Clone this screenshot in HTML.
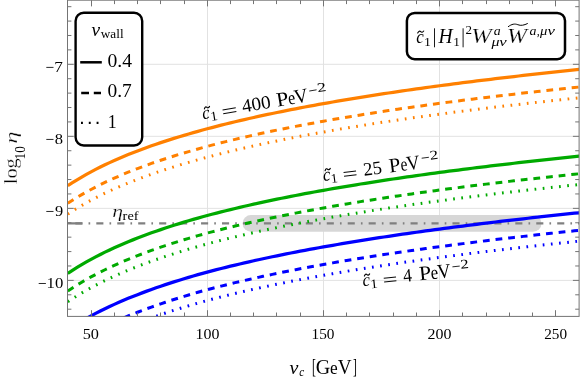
<!DOCTYPE html>
<html lang="en"><head><meta charset="utf-8"><title>plot</title>
<style>
html,body{margin:0;padding:0;background:#fff;}
body{width:581px;height:382px;overflow:hidden;font-family:"Liberation Serif",serif;}
svg{display:block;will-change:transform}
svg text{font-family:"Liberation Serif",serif;fill:#000;font-kerning:none;font-variant-ligatures:none;white-space:pre}
.i{font-style:italic}
</style></head><body>
<svg width="581" height="382" viewBox="0 0 581 382">
<rect x="0" y="0" width="581" height="382" fill="#fff"/>
<defs><clipPath id="cp"><rect x="67.5" y="0.2" width="511.6" height="316.2"/></clipPath></defs>
<g stroke="#e2e2e2" stroke-width="1" fill="none">
<line x1="207.50" y1="0.2" x2="207.50" y2="316.4"/>
<line x1="323.50" y1="0.2" x2="323.50" y2="316.4"/>
<line x1="439.50" y1="0.2" x2="439.50" y2="316.4"/>
<line x1="67.5" y1="64.30" x2="579.1" y2="64.30"/>
<line x1="67.5" y1="136.33" x2="579.1" y2="136.33"/>
<line x1="67.5" y1="208.36" x2="579.1" y2="208.36"/>
<line x1="67.5" y1="280.39" x2="579.1" y2="280.39"/>
</g>
<g clip-path="url(#cp)">
<line x1="251" y1="223.4" x2="533.1" y2="223.4" stroke="#d7d7d7" stroke-width="16.8" stroke-linecap="round"/>
<line x1="67.5" y1="223.3" x2="82.4" y2="223.3" stroke="#808080" stroke-width="2.3"/>
<line x1="75.35" y1="223.3" x2="579.1" y2="223.3" stroke="#808080" stroke-width="2.3" stroke-dasharray="7.1 6.1 1.65 6.1"/>
<path d="M67.80 185.71 L72.45 182.68 L77.10 179.79 L81.74 177.03 L86.39 174.38 L91.04 171.85 L95.69 169.41 L100.34 167.07 L104.98 164.81 L109.63 162.63 L114.28 160.52 L118.93 158.49 L123.58 156.52 L128.22 154.61 L132.87 152.75 L137.52 150.95 L142.17 149.20 L146.82 147.50 L151.46 145.84 L156.11 144.23 L160.76 142.66 L165.41 141.12 L170.06 139.63 L174.70 138.17 L179.35 136.74 L184.00 135.34 L188.65 133.98 L193.30 132.64 L197.94 131.34 L202.59 130.05 L207.24 128.80 L211.89 127.57 L216.54 126.36 L221.18 125.18 L225.83 124.02 L230.48 122.88 L235.13 121.76 L239.78 120.66 L244.42 119.58 L249.07 118.52 L253.72 117.48 L258.37 116.45 L263.02 115.44 L267.66 114.45 L272.31 113.47 L276.96 112.51 L281.61 111.56 L286.26 110.62 L290.90 109.70 L295.55 108.80 L300.20 107.90 L304.85 107.02 L309.50 106.15 L314.14 105.30 L318.79 104.45 L323.44 103.62 L328.09 102.80 L332.74 101.98 L337.38 101.18 L342.03 100.39 L346.68 99.61 L351.33 98.84 L355.98 98.08 L360.62 97.32 L365.27 96.58 L369.92 95.85 L374.57 95.12 L379.22 94.40 L383.86 93.69 L388.51 92.99 L393.16 92.30 L397.81 91.61 L402.46 90.93 L407.10 90.26 L411.75 89.60 L416.40 88.94 L421.05 88.29 L425.70 87.64 L430.34 87.01 L434.99 86.38 L439.64 85.75 L444.29 85.13 L448.94 84.52 L453.58 83.92 L458.23 83.32 L462.88 82.72 L467.53 82.13 L472.18 81.55 L476.82 80.97 L481.47 80.40 L486.12 79.83 L490.77 79.27 L495.42 78.71 L500.06 78.16 L504.71 77.62 L509.36 77.07 L514.01 76.54 L518.66 76.00 L523.30 75.47 L527.95 74.95 L532.60 74.43 L537.25 73.91 L541.90 73.40 L546.54 72.90 L551.19 72.39 L555.84 71.89 L560.49 71.40 L565.14 70.91 L569.78 70.42 L574.43 69.94 L579.08 69.46 L580.24 69.34" fill="none" stroke="#ff8000" stroke-width="3.25"/>
<path d="M67.80 203.31 L72.45 200.28 L77.10 197.39 L81.74 194.63 L86.39 191.98 L91.04 189.45 L95.69 187.01 L100.34 184.67 L104.98 182.41 L109.63 180.23 L114.28 178.12 L118.93 176.09 L123.58 174.12 L128.22 172.21 L132.87 170.35 L137.52 168.55 L142.17 166.80 L146.82 165.10 L151.46 163.44 L156.11 161.83 L160.76 160.26 L165.41 158.72 L170.06 157.23 L174.70 155.77 L179.35 154.34 L184.00 152.94 L188.65 151.58 L193.30 150.24 L197.94 148.94 L202.59 147.65 L207.24 146.40 L211.89 145.17 L216.54 143.96 L221.18 142.78 L225.83 141.62 L230.48 140.48 L235.13 139.36 L239.78 138.26 L244.42 137.18 L249.07 136.12 L253.72 135.08 L258.37 134.05 L263.02 133.04 L267.66 132.05 L272.31 131.07 L276.96 130.11 L281.61 129.16 L286.26 128.22 L290.90 127.30 L295.55 126.40 L300.20 125.50 L304.85 124.62 L309.50 123.75 L314.14 122.90 L318.79 122.05 L323.44 121.22 L328.09 120.40 L332.74 119.58 L337.38 118.78 L342.03 117.99 L346.68 117.21 L351.33 116.44 L355.98 115.68 L360.62 114.92 L365.27 114.18 L369.92 113.45 L374.57 112.72 L379.22 112.00 L383.86 111.29 L388.51 110.59 L393.16 109.90 L397.81 109.21 L402.46 108.53 L407.10 107.86 L411.75 107.20 L416.40 106.54 L421.05 105.89 L425.70 105.24 L430.34 104.61 L434.99 103.98 L439.64 103.35 L444.29 102.73 L448.94 102.12 L453.58 101.52 L458.23 100.92 L462.88 100.32 L467.53 99.73 L472.18 99.15 L476.82 98.57 L481.47 98.00 L486.12 97.43 L490.77 96.87 L495.42 96.31 L500.06 95.76 L504.71 95.22 L509.36 94.67 L514.01 94.14 L518.66 93.60 L523.30 93.07 L527.95 92.55 L532.60 92.03 L537.25 91.51 L541.90 91.00 L546.54 90.50 L551.19 89.99 L555.84 89.49 L560.49 89.00 L565.14 88.51 L569.78 88.02 L574.43 87.54 L579.08 87.06 L580.24 86.94" fill="none" stroke="#ff8000" stroke-width="3.0" stroke-dasharray="6.8 5.9"/>
<path d="M67.80 214.11 L72.45 211.08 L77.10 208.19 L81.74 205.43 L86.39 202.78 L91.04 200.25 L95.69 197.81 L100.34 195.47 L104.98 193.21 L109.63 191.03 L114.28 188.92 L118.93 186.89 L123.58 184.92 L128.22 183.01 L132.87 181.15 L137.52 179.35 L142.17 177.60 L146.82 175.90 L151.46 174.24 L156.11 172.63 L160.76 171.06 L165.41 169.52 L170.06 168.03 L174.70 166.57 L179.35 165.14 L184.00 163.74 L188.65 162.38 L193.30 161.04 L197.94 159.74 L202.59 158.45 L207.24 157.20 L211.89 155.97 L216.54 154.76 L221.18 153.58 L225.83 152.42 L230.48 151.28 L235.13 150.16 L239.78 149.06 L244.42 147.98 L249.07 146.92 L253.72 145.88 L258.37 144.85 L263.02 143.84 L267.66 142.85 L272.31 141.87 L276.96 140.91 L281.61 139.96 L286.26 139.02 L290.90 138.10 L295.55 137.20 L300.20 136.30 L304.85 135.42 L309.50 134.55 L314.14 133.70 L318.79 132.85 L323.44 132.02 L328.09 131.20 L332.74 130.38 L337.38 129.58 L342.03 128.79 L346.68 128.01 L351.33 127.24 L355.98 126.48 L360.62 125.72 L365.27 124.98 L369.92 124.25 L374.57 123.52 L379.22 122.80 L383.86 122.09 L388.51 121.39 L393.16 120.70 L397.81 120.01 L402.46 119.33 L407.10 118.66 L411.75 118.00 L416.40 117.34 L421.05 116.69 L425.70 116.04 L430.34 115.41 L434.99 114.78 L439.64 114.15 L444.29 113.53 L448.94 112.92 L453.58 112.32 L458.23 111.72 L462.88 111.12 L467.53 110.53 L472.18 109.95 L476.82 109.37 L481.47 108.80 L486.12 108.23 L490.77 107.67 L495.42 107.11 L500.06 106.56 L504.71 106.02 L509.36 105.47 L514.01 104.94 L518.66 104.40 L523.30 103.87 L527.95 103.35 L532.60 102.83 L537.25 102.31 L541.90 101.80 L546.54 101.30 L551.19 100.79 L555.84 100.29 L560.49 99.80 L565.14 99.31 L569.78 98.82 L574.43 98.34 L579.08 97.86 L580.24 97.74" fill="none" stroke="#ff8000" stroke-width="3.0" stroke-dasharray="1.7 6.5"/>
<path d="M67.80 273.41 L72.45 270.32 L77.10 267.38 L81.74 264.57 L86.39 261.88 L91.04 259.30 L95.69 256.83 L100.34 254.44 L104.98 252.14 L109.63 249.92 L114.28 247.78 L118.93 245.71 L123.58 243.70 L128.22 241.76 L132.87 239.87 L137.52 238.04 L142.17 236.26 L146.82 234.53 L151.46 232.84 L156.11 231.20 L160.76 229.60 L165.41 228.04 L170.06 226.52 L174.70 225.03 L179.35 223.58 L184.00 222.16 L188.65 220.77 L193.30 219.41 L197.94 218.08 L202.59 216.78 L207.24 215.50 L211.89 214.27 L216.54 213.06 L221.18 211.88 L225.83 210.72 L230.48 209.58 L235.13 208.46 L239.78 207.36 L244.42 206.28 L249.07 205.22 L253.72 204.18 L258.37 203.15 L263.02 202.14 L267.66 201.15 L272.31 200.17 L276.96 199.21 L281.61 198.26 L286.26 197.32 L290.90 196.40 L295.55 195.50 L300.20 194.60 L304.85 193.72 L309.50 192.85 L314.14 192.00 L318.79 191.15 L323.44 190.32 L328.09 189.50 L332.74 188.68 L337.38 187.88 L342.03 187.09 L346.68 186.31 L351.33 185.54 L355.98 184.78 L360.62 184.02 L365.27 183.28 L369.92 182.55 L374.57 181.82 L379.22 181.10 L383.86 180.39 L388.51 179.69 L393.16 179.00 L397.81 178.31 L402.46 177.63 L407.10 176.96 L411.75 176.30 L416.40 175.64 L421.05 174.99 L425.70 174.34 L430.34 173.71 L434.99 173.08 L439.64 172.45 L444.29 171.83 L448.94 171.22 L453.58 170.62 L458.23 170.02 L462.88 169.42 L467.53 168.83 L472.18 168.25 L476.82 167.67 L481.47 167.10 L486.12 166.53 L490.77 165.97 L495.42 165.41 L500.06 164.86 L504.71 164.32 L509.36 163.77 L514.01 163.24 L518.66 162.70 L523.30 162.17 L527.95 161.65 L532.60 161.13 L537.25 160.61 L541.90 160.10 L546.54 159.60 L551.19 159.09 L555.84 158.59 L560.49 158.10 L565.14 157.61 L569.78 157.12 L574.43 156.64 L579.08 156.16 L580.24 156.04" fill="none" stroke="#00aa00" stroke-width="3.25"/>
<path d="M67.80 291.01 L72.45 287.92 L77.10 284.98 L81.74 282.17 L86.39 279.48 L91.04 276.90 L95.69 274.43 L100.34 272.04 L104.98 269.74 L109.63 267.52 L114.28 265.38 L118.93 263.31 L123.58 261.30 L128.22 259.36 L132.87 257.47 L137.52 255.64 L142.17 253.86 L146.82 252.13 L151.46 250.44 L156.11 248.80 L160.76 247.20 L165.41 245.64 L170.06 244.12 L174.70 242.63 L179.35 241.18 L184.00 239.76 L188.65 238.37 L193.30 237.01 L197.94 235.68 L202.59 234.38 L207.24 233.10 L211.89 231.87 L216.54 230.66 L221.18 229.48 L225.83 228.32 L230.48 227.18 L235.13 226.06 L239.78 224.96 L244.42 223.88 L249.07 222.82 L253.72 221.78 L258.37 220.75 L263.02 219.74 L267.66 218.75 L272.31 217.77 L276.96 216.81 L281.61 215.86 L286.26 214.92 L290.90 214.00 L295.55 213.10 L300.20 212.20 L304.85 211.32 L309.50 210.45 L314.14 209.60 L318.79 208.75 L323.44 207.92 L328.09 207.10 L332.74 206.28 L337.38 205.48 L342.03 204.69 L346.68 203.91 L351.33 203.14 L355.98 202.38 L360.62 201.62 L365.27 200.88 L369.92 200.15 L374.57 199.42 L379.22 198.70 L383.86 197.99 L388.51 197.29 L393.16 196.60 L397.81 195.91 L402.46 195.23 L407.10 194.56 L411.75 193.90 L416.40 193.24 L421.05 192.59 L425.70 191.94 L430.34 191.31 L434.99 190.68 L439.64 190.05 L444.29 189.43 L448.94 188.82 L453.58 188.22 L458.23 187.62 L462.88 187.02 L467.53 186.43 L472.18 185.85 L476.82 185.27 L481.47 184.70 L486.12 184.13 L490.77 183.57 L495.42 183.01 L500.06 182.46 L504.71 181.92 L509.36 181.37 L514.01 180.84 L518.66 180.30 L523.30 179.77 L527.95 179.25 L532.60 178.73 L537.25 178.21 L541.90 177.70 L546.54 177.20 L551.19 176.69 L555.84 176.19 L560.49 175.70 L565.14 175.21 L569.78 174.72 L574.43 174.24 L579.08 173.76 L580.24 173.64" fill="none" stroke="#00aa00" stroke-width="3.0" stroke-dasharray="6.8 5.9"/>
<path d="M67.80 301.81 L72.45 298.72 L77.10 295.78 L81.74 292.97 L86.39 290.28 L91.04 287.70 L95.69 285.23 L100.34 282.84 L104.98 280.54 L109.63 278.32 L114.28 276.18 L118.93 274.11 L123.58 272.10 L128.22 270.16 L132.87 268.27 L137.52 266.44 L142.17 264.66 L146.82 262.93 L151.46 261.24 L156.11 259.60 L160.76 258.00 L165.41 256.44 L170.06 254.92 L174.70 253.43 L179.35 251.98 L184.00 250.56 L188.65 249.17 L193.30 247.81 L197.94 246.48 L202.59 245.18 L207.24 243.90 L211.89 242.67 L216.54 241.46 L221.18 240.28 L225.83 239.12 L230.48 237.98 L235.13 236.86 L239.78 235.76 L244.42 234.68 L249.07 233.62 L253.72 232.58 L258.37 231.55 L263.02 230.54 L267.66 229.55 L272.31 228.57 L276.96 227.61 L281.61 226.66 L286.26 225.72 L290.90 224.80 L295.55 223.90 L300.20 223.00 L304.85 222.12 L309.50 221.25 L314.14 220.40 L318.79 219.55 L323.44 218.72 L328.09 217.90 L332.74 217.08 L337.38 216.28 L342.03 215.49 L346.68 214.71 L351.33 213.94 L355.98 213.18 L360.62 212.42 L365.27 211.68 L369.92 210.95 L374.57 210.22 L379.22 209.50 L383.86 208.79 L388.51 208.09 L393.16 207.40 L397.81 206.71 L402.46 206.03 L407.10 205.36 L411.75 204.70 L416.40 204.04 L421.05 203.39 L425.70 202.74 L430.34 202.11 L434.99 201.48 L439.64 200.85 L444.29 200.23 L448.94 199.62 L453.58 199.02 L458.23 198.42 L462.88 197.82 L467.53 197.23 L472.18 196.65 L476.82 196.07 L481.47 195.50 L486.12 194.93 L490.77 194.37 L495.42 193.81 L500.06 193.26 L504.71 192.72 L509.36 192.17 L514.01 191.64 L518.66 191.10 L523.30 190.57 L527.95 190.05 L532.60 189.53 L537.25 189.01 L541.90 188.50 L546.54 188.00 L551.19 187.49 L555.84 186.99 L560.49 186.50 L565.14 186.01 L569.78 185.52 L574.43 185.04 L579.08 184.56 L580.24 184.44" fill="none" stroke="#00aa00" stroke-width="3.0" stroke-dasharray="1.7 6.5"/>
<path d="M67.80 330.01 L72.45 326.92 L77.10 323.98 L81.74 321.17 L86.39 318.48 L91.04 315.90 L95.69 313.43 L100.34 311.04 L104.98 308.74 L109.63 306.52 L114.28 304.38 L118.93 302.31 L123.58 300.30 L128.22 298.36 L132.87 296.47 L137.52 294.64 L142.17 292.86 L146.82 291.13 L151.46 289.44 L156.11 287.80 L160.76 286.20 L165.41 284.64 L170.06 283.12 L174.70 281.63 L179.35 280.18 L184.00 278.76 L188.65 277.37 L193.30 276.01 L197.94 274.68 L202.59 273.38 L207.24 272.10 L211.89 270.87 L216.54 269.66 L221.18 268.48 L225.83 267.32 L230.48 266.18 L235.13 265.06 L239.78 263.96 L244.42 262.88 L249.07 261.82 L253.72 260.78 L258.37 259.75 L263.02 258.74 L267.66 257.75 L272.31 256.77 L276.96 255.81 L281.61 254.86 L286.26 253.92 L290.90 253.00 L295.55 252.10 L300.20 251.20 L304.85 250.32 L309.50 249.45 L314.14 248.60 L318.79 247.75 L323.44 246.92 L328.09 246.10 L332.74 245.28 L337.38 244.48 L342.03 243.69 L346.68 242.91 L351.33 242.14 L355.98 241.38 L360.62 240.62 L365.27 239.88 L369.92 239.15 L374.57 238.42 L379.22 237.70 L383.86 236.99 L388.51 236.29 L393.16 235.60 L397.81 234.91 L402.46 234.23 L407.10 233.56 L411.75 232.90 L416.40 232.24 L421.05 231.59 L425.70 230.94 L430.34 230.31 L434.99 229.68 L439.64 229.05 L444.29 228.43 L448.94 227.82 L453.58 227.22 L458.23 226.62 L462.88 226.02 L467.53 225.43 L472.18 224.85 L476.82 224.27 L481.47 223.70 L486.12 223.13 L490.77 222.57 L495.42 222.01 L500.06 221.46 L504.71 220.92 L509.36 220.37 L514.01 219.84 L518.66 219.30 L523.30 218.77 L527.95 218.25 L532.60 217.73 L537.25 217.21 L541.90 216.70 L546.54 216.20 L551.19 215.69 L555.84 215.19 L560.49 214.70 L565.14 214.21 L569.78 213.72 L574.43 213.24 L579.08 212.76 L580.24 212.64" fill="none" stroke="#0000ff" stroke-width="3.25"/>
<path d="M67.80 347.61 L72.45 344.52 L77.10 341.58 L81.74 338.77 L86.39 336.08 L91.04 333.50 L95.69 331.03 L100.34 328.64 L104.98 326.34 L109.63 324.12 L114.28 321.98 L118.93 319.91 L123.58 317.90 L128.22 315.96 L132.87 314.07 L137.52 312.24 L142.17 310.46 L146.82 308.73 L151.46 307.04 L156.11 305.40 L160.76 303.80 L165.41 302.24 L170.06 300.72 L174.70 299.23 L179.35 297.78 L184.00 296.36 L188.65 294.97 L193.30 293.61 L197.94 292.28 L202.59 290.98 L207.24 289.70 L211.89 288.47 L216.54 287.26 L221.18 286.08 L225.83 284.92 L230.48 283.78 L235.13 282.66 L239.78 281.56 L244.42 280.48 L249.07 279.42 L253.72 278.38 L258.37 277.35 L263.02 276.34 L267.66 275.35 L272.31 274.37 L276.96 273.41 L281.61 272.46 L286.26 271.52 L290.90 270.60 L295.55 269.70 L300.20 268.80 L304.85 267.92 L309.50 267.05 L314.14 266.20 L318.79 265.35 L323.44 264.52 L328.09 263.70 L332.74 262.88 L337.38 262.08 L342.03 261.29 L346.68 260.51 L351.33 259.74 L355.98 258.98 L360.62 258.22 L365.27 257.48 L369.92 256.75 L374.57 256.02 L379.22 255.30 L383.86 254.59 L388.51 253.89 L393.16 253.20 L397.81 252.51 L402.46 251.83 L407.10 251.16 L411.75 250.50 L416.40 249.84 L421.05 249.19 L425.70 248.54 L430.34 247.91 L434.99 247.28 L439.64 246.65 L444.29 246.03 L448.94 245.42 L453.58 244.82 L458.23 244.22 L462.88 243.62 L467.53 243.03 L472.18 242.45 L476.82 241.87 L481.47 241.30 L486.12 240.73 L490.77 240.17 L495.42 239.61 L500.06 239.06 L504.71 238.52 L509.36 237.97 L514.01 237.44 L518.66 236.90 L523.30 236.37 L527.95 235.85 L532.60 235.33 L537.25 234.81 L541.90 234.30 L546.54 233.80 L551.19 233.29 L555.84 232.79 L560.49 232.30 L565.14 231.81 L569.78 231.32 L574.43 230.84 L579.08 230.36 L580.24 230.24" fill="none" stroke="#0000ff" stroke-width="3.0" stroke-dasharray="6.8 5.9"/>
<path d="M67.80 358.41 L72.45 355.32 L77.10 352.38 L81.74 349.57 L86.39 346.88 L91.04 344.30 L95.69 341.83 L100.34 339.44 L104.98 337.14 L109.63 334.92 L114.28 332.78 L118.93 330.71 L123.58 328.70 L128.22 326.76 L132.87 324.87 L137.52 323.04 L142.17 321.26 L146.82 319.53 L151.46 317.84 L156.11 316.20 L160.76 314.60 L165.41 313.04 L170.06 311.52 L174.70 310.03 L179.35 308.58 L184.00 307.16 L188.65 305.77 L193.30 304.41 L197.94 303.08 L202.59 301.78 L207.24 300.50 L211.89 299.27 L216.54 298.06 L221.18 296.88 L225.83 295.72 L230.48 294.58 L235.13 293.46 L239.78 292.36 L244.42 291.28 L249.07 290.22 L253.72 289.18 L258.37 288.15 L263.02 287.14 L267.66 286.15 L272.31 285.17 L276.96 284.21 L281.61 283.26 L286.26 282.32 L290.90 281.40 L295.55 280.50 L300.20 279.60 L304.85 278.72 L309.50 277.85 L314.14 277.00 L318.79 276.15 L323.44 275.32 L328.09 274.50 L332.74 273.68 L337.38 272.88 L342.03 272.09 L346.68 271.31 L351.33 270.54 L355.98 269.78 L360.62 269.02 L365.27 268.28 L369.92 267.55 L374.57 266.82 L379.22 266.10 L383.86 265.39 L388.51 264.69 L393.16 264.00 L397.81 263.31 L402.46 262.63 L407.10 261.96 L411.75 261.30 L416.40 260.64 L421.05 259.99 L425.70 259.34 L430.34 258.71 L434.99 258.08 L439.64 257.45 L444.29 256.83 L448.94 256.22 L453.58 255.62 L458.23 255.02 L462.88 254.42 L467.53 253.83 L472.18 253.25 L476.82 252.67 L481.47 252.10 L486.12 251.53 L490.77 250.97 L495.42 250.41 L500.06 249.86 L504.71 249.32 L509.36 248.77 L514.01 248.24 L518.66 247.70 L523.30 247.17 L527.95 246.65 L532.60 246.13 L537.25 245.61 L541.90 245.10 L546.54 244.60 L551.19 244.09 L555.84 243.59 L560.49 243.10 L565.14 242.61 L569.78 242.12 L574.43 241.64 L579.08 241.16 L580.24 241.04" fill="none" stroke="#0000ff" stroke-width="3.0" stroke-dasharray="1.7 6.5"/>
</g>
<g stroke="#747474" stroke-width="1" fill="none">
<rect x="67.5" y="0.2" width="511.6" height="316.2"/>
<line x1="91.50" y1="0.2" x2="91.50" y2="6.4"/>
<line x1="91.50" y1="316.4" x2="91.50" y2="310.2"/>
<line x1="114.50" y1="0.2" x2="114.50" y2="4.1"/>
<line x1="114.50" y1="316.4" x2="114.50" y2="312.5"/>
<line x1="137.50" y1="0.2" x2="137.50" y2="4.1"/>
<line x1="137.50" y1="316.4" x2="137.50" y2="312.5"/>
<line x1="160.50" y1="0.2" x2="160.50" y2="4.1"/>
<line x1="160.50" y1="316.4" x2="160.50" y2="312.5"/>
<line x1="184.50" y1="0.2" x2="184.50" y2="4.1"/>
<line x1="184.50" y1="316.4" x2="184.50" y2="312.5"/>
<line x1="207.50" y1="0.2" x2="207.50" y2="6.4"/>
<line x1="207.50" y1="316.4" x2="207.50" y2="310.2"/>
<line x1="230.50" y1="0.2" x2="230.50" y2="4.1"/>
<line x1="230.50" y1="316.4" x2="230.50" y2="312.5"/>
<line x1="253.50" y1="0.2" x2="253.50" y2="4.1"/>
<line x1="253.50" y1="316.4" x2="253.50" y2="312.5"/>
<line x1="276.50" y1="0.2" x2="276.50" y2="4.1"/>
<line x1="276.50" y1="316.4" x2="276.50" y2="312.5"/>
<line x1="300.50" y1="0.2" x2="300.50" y2="4.1"/>
<line x1="300.50" y1="316.4" x2="300.50" y2="312.5"/>
<line x1="323.50" y1="0.2" x2="323.50" y2="6.4"/>
<line x1="323.50" y1="316.4" x2="323.50" y2="310.2"/>
<line x1="346.50" y1="0.2" x2="346.50" y2="4.1"/>
<line x1="346.50" y1="316.4" x2="346.50" y2="312.5"/>
<line x1="369.50" y1="0.2" x2="369.50" y2="4.1"/>
<line x1="369.50" y1="316.4" x2="369.50" y2="312.5"/>
<line x1="393.50" y1="0.2" x2="393.50" y2="4.1"/>
<line x1="393.50" y1="316.4" x2="393.50" y2="312.5"/>
<line x1="416.50" y1="0.2" x2="416.50" y2="4.1"/>
<line x1="416.50" y1="316.4" x2="416.50" y2="312.5"/>
<line x1="439.50" y1="0.2" x2="439.50" y2="6.4"/>
<line x1="439.50" y1="316.4" x2="439.50" y2="310.2"/>
<line x1="462.50" y1="0.2" x2="462.50" y2="4.1"/>
<line x1="462.50" y1="316.4" x2="462.50" y2="312.5"/>
<line x1="486.50" y1="0.2" x2="486.50" y2="4.1"/>
<line x1="486.50" y1="316.4" x2="486.50" y2="312.5"/>
<line x1="509.50" y1="0.2" x2="509.50" y2="4.1"/>
<line x1="509.50" y1="316.4" x2="509.50" y2="312.5"/>
<line x1="532.50" y1="0.2" x2="532.50" y2="4.1"/>
<line x1="532.50" y1="316.4" x2="532.50" y2="312.5"/>
<line x1="555.50" y1="0.2" x2="555.50" y2="6.4"/>
<line x1="555.50" y1="316.4" x2="555.50" y2="310.2"/>
<line x1="67.5" y1="6.68" x2="71.4" y2="6.68"/>
<line x1="579.1" y1="6.68" x2="575.2" y2="6.68"/>
<line x1="67.5" y1="21.08" x2="71.4" y2="21.08"/>
<line x1="579.1" y1="21.08" x2="575.2" y2="21.08"/>
<line x1="67.5" y1="35.49" x2="71.4" y2="35.49"/>
<line x1="579.1" y1="35.49" x2="575.2" y2="35.49"/>
<line x1="67.5" y1="49.89" x2="71.4" y2="49.89"/>
<line x1="579.1" y1="49.89" x2="575.2" y2="49.89"/>
<line x1="67.5" y1="64.30" x2="73.7" y2="64.30"/>
<line x1="579.1" y1="64.30" x2="572.9" y2="64.30"/>
<line x1="67.5" y1="78.71" x2="71.4" y2="78.71"/>
<line x1="579.1" y1="78.71" x2="575.2" y2="78.71"/>
<line x1="67.5" y1="93.11" x2="71.4" y2="93.11"/>
<line x1="579.1" y1="93.11" x2="575.2" y2="93.11"/>
<line x1="67.5" y1="107.52" x2="71.4" y2="107.52"/>
<line x1="579.1" y1="107.52" x2="575.2" y2="107.52"/>
<line x1="67.5" y1="121.92" x2="71.4" y2="121.92"/>
<line x1="579.1" y1="121.92" x2="575.2" y2="121.92"/>
<line x1="67.5" y1="136.33" x2="73.7" y2="136.33"/>
<line x1="579.1" y1="136.33" x2="572.9" y2="136.33"/>
<line x1="67.5" y1="150.74" x2="71.4" y2="150.74"/>
<line x1="579.1" y1="150.74" x2="575.2" y2="150.74"/>
<line x1="67.5" y1="165.14" x2="71.4" y2="165.14"/>
<line x1="579.1" y1="165.14" x2="575.2" y2="165.14"/>
<line x1="67.5" y1="179.55" x2="71.4" y2="179.55"/>
<line x1="579.1" y1="179.55" x2="575.2" y2="179.55"/>
<line x1="67.5" y1="193.95" x2="71.4" y2="193.95"/>
<line x1="579.1" y1="193.95" x2="575.2" y2="193.95"/>
<line x1="67.5" y1="208.36" x2="73.7" y2="208.36"/>
<line x1="579.1" y1="208.36" x2="572.9" y2="208.36"/>
<line x1="67.5" y1="222.77" x2="71.4" y2="222.77"/>
<line x1="579.1" y1="222.77" x2="575.2" y2="222.77"/>
<line x1="67.5" y1="237.17" x2="71.4" y2="237.17"/>
<line x1="579.1" y1="237.17" x2="575.2" y2="237.17"/>
<line x1="67.5" y1="251.58" x2="71.4" y2="251.58"/>
<line x1="579.1" y1="251.58" x2="575.2" y2="251.58"/>
<line x1="67.5" y1="265.98" x2="71.4" y2="265.98"/>
<line x1="579.1" y1="265.98" x2="575.2" y2="265.98"/>
<line x1="67.5" y1="280.39" x2="73.7" y2="280.39"/>
<line x1="579.1" y1="280.39" x2="572.9" y2="280.39"/>
<line x1="67.5" y1="294.80" x2="71.4" y2="294.80"/>
<line x1="579.1" y1="294.80" x2="575.2" y2="294.80"/>
<line x1="67.5" y1="309.20" x2="71.4" y2="309.20"/>
<line x1="579.1" y1="309.20" x2="575.2" y2="309.20"/>
</g>
<text transform="translate(82.65,338.90) scale(1.0493,1.000)" font-size="15.50">50</text>
<text transform="translate(195.50,338.90) scale(1.0283,1.000)" font-size="15.50">100</text>
<text transform="translate(311.56,338.90) scale(0.9860,1.000)" font-size="15.50">150</text>
<text transform="translate(427.50,338.90) scale(1.0283,1.000)" font-size="15.50">200</text>
<text transform="translate(544.23,338.90) scale(0.9828,1.000)" font-size="15.50">250</text>
<line x1="46.30" y1="67.40" x2="53.50" y2="67.40" stroke="#000" stroke-width="0.84"/>
<text transform="translate(54.36,71.70) scale(1.1143,1.000)" font-size="15.50">7</text>
<line x1="46.30" y1="139.43" x2="53.50" y2="139.43" stroke="#000" stroke-width="0.84"/>
<text transform="translate(54.87,143.73) scale(1.0656,1.000)" font-size="15.50">8</text>
<line x1="46.30" y1="211.46" x2="53.50" y2="211.46" stroke="#000" stroke-width="0.84"/>
<text transform="translate(54.97,215.76) scale(1.0582,1.000)" font-size="15.50">9</text>
<line x1="38.70" y1="283.49" x2="45.90" y2="283.49" stroke="#000" stroke-width="0.84"/>
<text transform="translate(46.53,287.79) scale(1.0777,1.000)" font-size="15.50">10</text>
<text class="i" transform="translate(289.43,374.10) scale(1.0924,1.000)" font-size="18.30">v</text>
<text class="i" transform="translate(299.16,376.20) scale(0.8670,1.000)" font-size="12.90">c</text>
<text transform="translate(311.93,373.40) scale(0.5781,1.000)" font-size="20.20">[</text>
<text transform="translate(315.78,374.10) scale(0.9902,1.000)" font-size="20.20">G</text>
<text transform="translate(330.02,374.10) scale(0.8959,1.000)" font-size="19.30">e</text>
<text transform="translate(337.68,374.10) scale(0.9481,1.000)" font-size="20.20">V</text>
<text transform="translate(352.98,373.40) scale(0.5781,1.000)" font-size="20.20">]</text>
<g transform="translate(17.3,184) rotate(-90)">
<text transform="translate(-0.21,0.00) scale(1.0540,1.000)" font-size="19.30" stroke="#fff" stroke-width="0.3">log</text>
<text transform="translate(24.53,7.80) scale(0.9759,1.000)" font-size="13.60">10</text>
<text class="i" transform="translate(40.32,0.00) scale(1.1546,0.810)" font-size="21.50" stroke="#fff" stroke-width="0.3" stroke="#fff" stroke-width="0.18" paint-order="fill stroke">η</text>
</g>
<text class="i" transform="translate(112.33,217.40) scale(1.0103,0.810)" font-size="21.50" stroke="#fff" stroke-width="0.3" stroke="#fff" stroke-width="0.01" paint-order="fill stroke">η</text>
<text transform="translate(122.61,220.00) scale(1.0671,1.000)" font-size="13.50">ref</text>
<rect x="75.6" y="12.7" width="66.6" height="132.75" rx="8.2" ry="8.2" fill="#fff" stroke="#000" stroke-width="2.4"/>
<text class="i" transform="translate(91.54,35.80) scale(1.0543,1.000)" font-size="18.30">v</text>
<text transform="translate(100.79,38.20) scale(0.9800,1.000)" font-size="13.50">wall</text>
<line x1="80.2" y1="62.3" x2="101.8" y2="62.3" stroke="#000" stroke-width="2.5"/>
<line x1="81.2" y1="92.9" x2="101" y2="92.9" stroke="#000" stroke-width="2.5" stroke-dasharray="7.8 4.8"/>
<line x1="81" y1="122.9" x2="99" y2="122.9" stroke="#000" stroke-width="2.1" stroke-dasharray="1.9 5.9"/>
<text transform="translate(107.45,67.00) scale(1.0505,1.000)" font-size="18.70">0.4</text>
<text transform="translate(107.46,97.30) scale(1.0396,1.000)" font-size="18.70">0.7</text>
<text transform="translate(107.73,128.30) scale(0.9570,1.000)" font-size="18.70">1</text>
<rect x="406.9" y="12.9" width="158.1" height="46.3" rx="7.8" ry="7.8" fill="#fff" stroke="#000" stroke-width="2.5"/>
<text class="i" transform="translate(416.28,42.50) scale(0.9236,1.000)" font-size="18.30">c</text>
<path d="M417.70 33.00 C418.78 31.04 419.74 30.72 420.70 31.70 S422.62 32.26 423.70 31.00" fill="none" stroke="#000" stroke-width="1.15" stroke-linecap="round"/>
<text transform="translate(424.08,45.50) scale(1.0706,1.000)" font-size="13.00">1</text>
<line x1="434.5" y1="28.3" x2="434.5" y2="47.3" stroke="#000" stroke-width="0.9"/>
<text class="i" transform="translate(438.61,42.50) scale(0.9674,1.000)" font-size="20.20">H</text>
<text transform="translate(453.33,45.50) scale(1.0269,1.000)" font-size="13.00">1</text>
<line x1="463.1" y1="28.3" x2="463.1" y2="47.3" stroke="#000" stroke-width="0.9"/>
<text transform="translate(465.43,34.30) scale(0.9978,1.000)" font-size="13.00">2</text>
<text class="i" transform="translate(471.18,42.50) scale(1.2159,1.000)" font-size="20.20" stroke="#fff" stroke-width="0.24" paint-order="fill stroke">W</text>
<text class="i" transform="translate(493.79,35.00) scale(1.0751,1.000)" font-size="12.90">a</text>
<text class="i" transform="translate(491.42,46.00) scale(1.2377,1.000)" font-size="12.90">μ</text>
<text class="i" transform="translate(499.37,46.00) scale(1.2975,1.000)" font-size="12.90">ν</text>
<text class="i" transform="translate(507.02,42.50) scale(1.1866,1.000)" font-size="20.20" stroke="#fff" stroke-width="0.21" paint-order="fill stroke">W</text>
<path d="M508.30 26.60 C511.74 23.98 514.79 23.50 517.85 24.71 S523.96 25.31 527.40 23.60" fill="none" stroke="#000" stroke-width="1.00" stroke-linecap="round"/>
<text class="i" transform="translate(529.59,35.00) scale(1.0751,1.000)" font-size="12.90">a</text>
<text transform="translate(536.74,35.00) scale(0.8953,1.000)" font-size="13.50">,</text>
<text class="i" transform="translate(540.01,35.00) scale(1.1387,1.000)" font-size="12.90">μ</text>
<text class="i" transform="translate(547.57,35.00) scale(1.2975,1.000)" font-size="12.90">ν</text>
<g transform="translate(203.30,119.20) rotate(-9.60)">
<text class="i" transform="translate(-0.43,0.00) scale(0.9367,1.000)" font-size="18.30">c</text>
<path d="M2.81 -10.00 C3.79 -11.89 4.67 -12.14 5.55 -11.10 S7.30 -10.41 8.28 -11.60" fill="none" stroke="#000" stroke-width="1.15" stroke-linecap="round"/>
<text transform="translate(7.23,3.00) scale(1.1302,1.000)" font-size="13.00">1</text>
<text transform="translate(18.97,2.30) scale(1.5385,1.000)" font-size="18.70">=</text>
<text transform="translate(40.29,0.00) scale(1.0340,1.000)" font-size="18.70">400</text>
<text transform="translate(75.13,0.00) scale(1.0818,1.000)" font-size="20.20">P</text>
<text transform="translate(87.00,0.00) scale(0.8377,1.000)" font-size="19.30">e</text>
<text transform="translate(93.19,0.00) scale(0.9400,1.000)" font-size="20.20">V</text>
<line x1="109.18" y1="-10.10" x2="116.58" y2="-10.10" stroke="#000" stroke-width="0.80"/>
<text transform="translate(117.39,-7.40) scale(1.4012,1.000)" font-size="13.00">2</text>
</g>
<g transform="translate(324.00,180.90) rotate(-7.30)">
<text class="i" transform="translate(-0.42,0.00) scale(0.9311,1.000)" font-size="18.30">c</text>
<path d="M2.39 -10.00 C3.37 -11.89 4.24 -12.14 5.11 -11.10 S6.85 -10.41 7.83 -11.60" fill="none" stroke="#000" stroke-width="1.15" stroke-linecap="round"/>
<text transform="translate(6.95,3.00) scale(1.0794,1.000)" font-size="13.00">1</text>
<text transform="translate(19.02,2.30) scale(1.4482,1.000)" font-size="18.70">=</text>
<text transform="translate(40.21,0.00) scale(1.0054,1.000)" font-size="18.70">25</text>
<text transform="translate(66.25,0.00) scale(1.0242,1.000)" font-size="20.20">P</text>
<text transform="translate(77.83,0.00) scale(0.8045,1.000)" font-size="19.30">e</text>
<text transform="translate(83.98,0.00) scale(0.9130,1.000)" font-size="20.20">V</text>
<line x1="99.76" y1="-10.10" x2="107.02" y2="-10.10" stroke="#000" stroke-width="0.80"/>
<text transform="translate(107.98,-7.40) scale(1.2961,1.000)" font-size="13.00">2</text>
</g>
<g transform="translate(363.30,286.20) rotate(-5.90)">
<text class="i" transform="translate(-0.42,0.00) scale(0.9285,1.000)" font-size="18.30">c</text>
<path d="M2.14 -10.00 C3.12 -11.89 3.99 -12.14 4.85 -11.10 S6.59 -10.41 7.57 -11.60" fill="none" stroke="#000" stroke-width="1.15" stroke-linecap="round"/>
<text transform="translate(7.13,3.00) scale(1.1423,1.000)" font-size="13.00">1</text>
<text transform="translate(19.75,2.30) scale(1.4210,1.000)" font-size="18.70">=</text>
<text transform="translate(40.57,0.00) scale(0.9368,1.000)" font-size="18.70">4</text>
<text transform="translate(56.77,0.00) scale(1.0826,1.000)" font-size="20.20">P</text>
<text transform="translate(68.41,0.00) scale(0.8726,1.000)" font-size="19.30">e</text>
<text transform="translate(75.09,0.00) scale(0.9104,1.000)" font-size="20.20">V</text>
<line x1="90.65" y1="-10.10" x2="97.99" y2="-10.10" stroke="#000" stroke-width="0.80"/>
<text transform="translate(98.85,-7.40) scale(1.2925,1.000)" font-size="13.00">2</text>
</g>
</svg>
</body></html>
